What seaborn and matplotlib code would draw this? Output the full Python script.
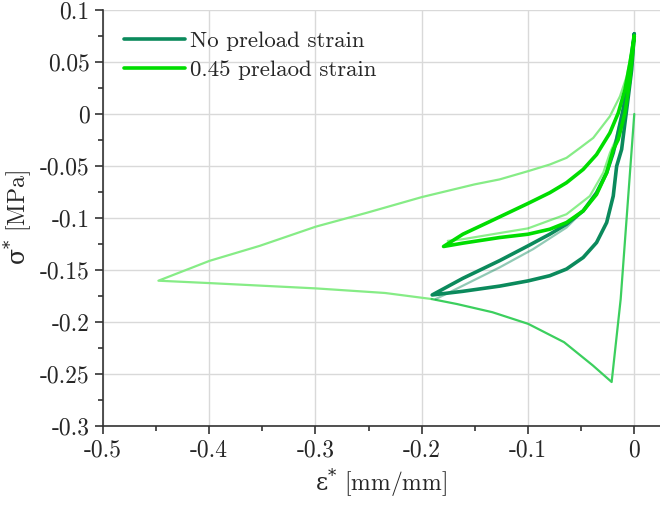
import numpy as np
import pandas as pd
import matplotlib.pyplot as plt
import seaborn as sns
from matplotlib.ticker import MultipleLocator, FuncFormatter

# --- data (strain [mm/mm], stress [MPa]) ---

# no preload strain, main loop: top -> lower branch -> tip -> upper branch -> top
np_strain = [0.0, -0.0025, -0.0056, -0.0088, -0.0119, -0.0166, -0.0198, -0.026, -0.0355, -0.0481,
             -0.0638, -0.0795, -0.1, -0.1267, -0.1613, -0.1902,
             -0.1613, -0.1267, -0.1, -0.0795, -0.0638, -0.0481, -0.0355, -0.026, -0.0198,
             -0.0166, -0.0104, -0.0045, 0.0]
np_stress = [0.077, 0.0424, 0.0169, -0.0086, -0.034, -0.0502, -0.0789, -0.1044, -0.1236, -0.138,
             -0.1491, -0.1555, -0.1605, -0.1655, -0.1705, -0.174,
             -0.158, -0.141, -0.1268, -0.1156, -0.106, -0.0932, -0.0757, -0.0565, -0.0374,
             -0.024, 0.005, 0.04, 0.077]

# no preload strain, earlier cycle (faint)
np0_strain = [-0.187, -0.1739, -0.1267, -0.0953, -0.0638, -0.0481, -0.0355]
np0_stress = [-0.178, -0.1715, -0.1475, -0.13, -0.1092, -0.0932, -0.0773]

# 0.45 preload strain, main loop
pl_strain = [0.0, -0.0041, -0.0088, -0.0151, -0.0198, -0.026, -0.0355, -0.0481, -0.0638, -0.0795,
             -0.1, -0.1267, -0.1613, -0.1795,
             -0.1613, -0.1361, -0.1, -0.0795, -0.0638, -0.0481, -0.0355, -0.023, -0.0151,
             -0.0088, -0.0041, 0.0]
pl_stress = [0.075, 0.0329, 0.0009, -0.0246, -0.0342, -0.0565, -0.0773, -0.0932, -0.1044, -0.1108,
             -0.1156, -0.1188, -0.1242, -0.1274,
             -0.1156, -0.1035, -0.086, -0.0757, -0.0661, -0.0533, -0.039, -0.0183, 0.0009,
             0.0233, 0.0488, 0.075]

# 0.45 preload strain, earlier cycle (faint)
pl0_strain = [-0.1755, -0.1613, -0.1267, -0.1, -0.0638, -0.0418, -0.0292, -0.0229, -0.0175,
              -0.0105, -0.0045, 0.0]
pl0_stress = [-0.122, -0.1204, -0.1145, -0.11, -0.0964, -0.0789, -0.0565, -0.0374, -0.025,
              0.005, 0.04, 0.074]

# first preload path: start -> deep tip -> back to the crossing
pre_strain = [0.0, -0.0128, -0.0213, -0.0391, -0.0661, -0.0998, -0.1335, -0.167, -0.1908]
pre_stress = [0.0, -0.178, -0.2577, -0.2417, -0.2194, -0.2018, -0.1906, -0.1827, -0.1779]

# outer loop continuing to the far left and back up
out_strain = [-0.1908, -0.2346, -0.2996, -0.3997, -0.4478, -0.3997, -0.3525, -0.2996, -0.2514,
              -0.1999, -0.1503, -0.1267, -0.1, -0.0795, -0.0638, -0.0512, -0.0386, -0.023,
              -0.0135, -0.0072, 0.0]
out_stress = [-0.1779, -0.1721, -0.1677, -0.1626, -0.1603, -0.1412, -0.1268, -0.1083, -0.0949,
              -0.0799, -0.0677, -0.0629, -0.055, -0.0486, -0.0422, -0.0327, -0.023, -0.0023,
              0.0169, 0.036, 0.074]

sns.set_style("ticks")
plt.rcParams['font.family'] = ['cmr10', 'DejaVu Serif']
# greek letters in the labels come upright from DejaVu Serif via mathtext
plt.rcParams['mathtext.fontset'] = 'custom'
plt.rcParams['mathtext.rm'] = 'DejaVu Serif'
plt.rcParams['mathtext.it'] = 'DejaVu Serif:italic'
plt.rcParams['mathtext.bf'] = 'DejaVu Serif:bold'
plt.rcParams['axes.unicode_minus'] = False

fig = plt.figure(figsize=(6.6, 5.08), dpi=100)
ax = fig.add_axes([0.156, 0.1614, 0.844, 0.819])

def draw(xs, ys, color, lw, alpha=1.0, label=None):
    d = pd.DataFrame({'strain': xs, 'stress': ys})
    sns.lineplot(data=d, x='strain', y='stress', sort=False, estimator=None, color=color,
                 lw=lw, alpha=alpha, label=label, ax=ax, legend=False,
                 solid_joinstyle='round', solid_capstyle='round')

draw(out_strain, out_stress, '#86ec86', 1.6)
draw(pre_strain, pre_stress, '#3ccf5e', 1.6)
draw(np0_strain, np0_stress, '#0b8a5c', 1.6, alpha=0.45)
draw(pl0_strain, pl0_stress, '#00dd00', 1.6, alpha=0.45)
draw(np_strain, np_stress, '#0b8a5c', 2.6, label='No preload strain')
draw(pl_strain, pl_stress, '#00dd00', 2.6, label='0.45 prelaod strain')

ax.set_xlim(-0.5, 0.0242)
ax.set_ylim(-0.3, 0.1)
ax.xaxis.set_major_locator(MultipleLocator(0.1))
ax.xaxis.set_minor_locator(MultipleLocator(0.05))
ax.yaxis.set_major_locator(MultipleLocator(0.05))
ax.yaxis.set_minor_locator(MultipleLocator(0.025))
fmt = FuncFormatter(lambda v, p: '0' if abs(v) < 1e-9 else f'{v:g}')
ax.xaxis.set_major_formatter(fmt)
ax.yaxis.set_major_formatter(fmt)
ax.tick_params(which='major', direction='out', length=6, width=1.2, labelsize=17, color='#333333')
ax.tick_params(which='minor', direction='out', length=3.5, width=1.2, color='#333333')
ax.grid(True, which='major', color='#d9d9d9', lw=1)
ax.set_axisbelow(True)

sns.despine(ax=ax)
for s in ['left', 'bottom']:
    ax.spines[s].set_color('#333333')
    ax.spines[s].set_linewidth(1.2)

ax.set_xlabel(r'$\mathrm{\varepsilon}^{*}$ [mm/mm]', fontsize=17)
ax.set_ylabel(r'$\mathrm{\sigma}^{*}$ [MPa]', fontsize=17)

ax.legend(loc='upper left', frameon=False, fontsize=16.5, handlelength=2.7, handletextpad=0.2,
          borderaxespad=0.5, labelspacing=0.4)

fig.savefig('out.png', dpi=100)
